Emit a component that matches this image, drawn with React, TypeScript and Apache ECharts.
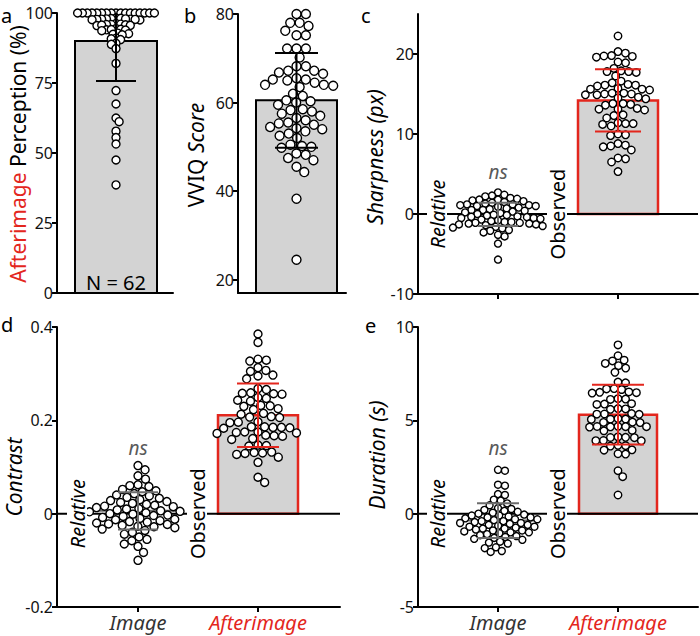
import React, { useEffect, useRef } from 'react';
import * as echarts from 'echarts';

// ---------------- data ----------------
const perceptionA = [
  100, 100, 100, 100, 100, 100, 100, 100, 100, 100, 100, 100, 100, 100, 100, 100, 100,
  98.2, 98.0, 97.9, 97.8, 97.7, 97.6, 97.8, 98.1, 97.5, 97.9, 97.7,
  96.2, 96.0, 95.9, 95.8, 95.6, 95.5, 95.9, 95.7,
  94.4, 94.2, 94.0, 93.9, 93.7, 94.1,
  92.8, 92.6, 92.4, 92.2,
  91.0, 90.8, 90.5,
  89.2, 88.8,
  87.3,
  82, 72.3, 67.5, 62.5, 61.2, 57.8, 55.5, 53.2, 47.5, 38.6,
];
const vviqB = [
  80, 80, 78, 78, 77.3, 76.2, 75.2, 75.2, 72.2, 72.2, 72.2, 70.2, 68.2, 68.2, 67.2, 67.2,
  66.8, 66.5, 65.5, 65.2, 65.2, 65, 64.5, 64, 64, 63.8, 63.5, 62, 61.5, 60.5, 60.3, 60,
  59.5, 58.5, 58.3, 58, 57.5, 57, 56.5, 56, 55.5, 55.3, 55, 54.5, 54.2, 54, 53.5, 53,
  52.5, 52, 50.5, 50.2, 50, 49.8, 48.5, 48.2, 47.5, 47, 45.5, 44.3, 38.3, 24.5,
];
const sharpRelative = [
  2.7, 2.4, 2.3, 2.2, 2.0, 1.9, 1.8, 1.8, 1.7, 1.6, 1.5, 1.4, 1.3, 1.2, 1.2, 1.1, 1.1,
  1.0, 1.0, 0.9, 0.8, 0.7, 0.6, 0.5, 0.5, 0.4, 0.3, 0.2, 0.1, 0.0,
  -0.1, -0.15, -0.2, -0.3, -0.35, -0.4, -0.5, -0.5, -0.6, -0.7, -0.8, -0.9, -1.0, -1.0,
  -1.1, -1.1, -1.2, -1.2, -1.3, -1.3, -1.4, -1.5, -1.6, -1.7, -1.8, -2.0, -2.1, -2.3,
  -2.6, -2.8, -3.7, -5.7,
];
const sharpObserved = [
  22.25, 20.3, 20.1, 19.8, 19.7, 19.75, 19.6, 19.0, 18.9, 18.2, 17.9, 17.8, 17.7, 17.8,
  17.25, 16.6, 16.4, 16.2, 16.1, 16.0, 16.1, 15.7, 15.6, 15.5, 15.6, 15.1, 15.0, 14.9,
  15.0, 15.1, 14.9, 14.5, 14.6, 14.4, 13.8, 13.7, 13.8, 13.6, 13.2, 13.1, 13.0, 13.1,
  12.4, 12.3, 12.0, 11.4, 11.3, 11.2, 11.3, 11.0, 10.0, 9.9, 9.8, 8.8, 8.6, 8.5, 8.4,
  8.0, 7.0, 6.9, 6.5, 5.3,
];
const contrastRelative = [
  0.103, 0.094, 0.081, 0.074, 0.062, 0.060, 0.058, 0.052, 0.049, 0.047, 0.043, 0.040,
  0.038, 0.035, 0.033, 0.030, 0.028, 0.026, 0.024, 0.022, 0.020, 0.018, 0.016, 0.015,
  0.013, 0.011, 0.010, 0.008, 0.006, 0.005, 0.004, 0.002, 0.000, -0.001, -0.003, -0.004,
  -0.006, -0.008, -0.010, -0.012, -0.013, -0.015, -0.017, -0.018, -0.020, -0.022, -0.023,
  -0.025, -0.027, -0.028, -0.030, -0.033, -0.036, -0.040, -0.044, -0.050, -0.055, -0.058,
  -0.065, -0.070, -0.083, -0.100,
];
const contrastObserved = [
  0.385, 0.367, 0.331, 0.329, 0.327, 0.313, 0.307, 0.305, 0.297, 0.295, 0.289, 0.268,
  0.266, 0.259, 0.258, 0.257, 0.256, 0.249, 0.247, 0.243, 0.241, 0.232, 0.231, 0.230,
  0.225, 0.223, 0.215, 0.213, 0.208, 0.207, 0.206, 0.197, 0.196, 0.195, 0.186, 0.185,
  0.185, 0.184, 0.186, 0.183, 0.175, 0.174, 0.173, 0.175, 0.172, 0.168, 0.167, 0.166,
  0.161, 0.159, 0.147, 0.146, 0.145, 0.132, 0.131, 0.130, 0.129, 0.127, 0.121, 0.110,
  0.078, 0.067,
];
const durationRelative = [
  2.35, 2.3, 1.55, 1.5, 1.05, 1.0, 0.75, 0.7, 0.55, 0.45, 0.3, 0.25, 0.2, 0.15, 0.1, 0.05,
  0.0, -0.05, -0.1, -0.1, -0.15, -0.2, -0.2, -0.25, -0.3, -0.3, -0.35, -0.4, -0.4, -0.45,
  -0.5, -0.5, -0.55, -0.6, -0.6, -0.65, -0.7, -0.7, -0.75, -0.8, -0.8, -0.85, -0.9, -0.9,
  -0.95, -1.0, -1.0, -1.05, -1.1, -1.15, -1.2, -1.25, -1.3, -1.35, -1.4, -1.5, -1.55,
  -1.6, -1.8, -1.85, -2.0, -2.05,
];
const durationObserved = [
  9.04, 8.46, 8.22, 8.18, 8.05, 7.93, 7.8, 7.57, 7.05, 7.01, 6.7, 6.68, 6.65, 6.52, 6.5,
  6.48, 6.46, 6.16, 6.14, 6.12, 5.89, 5.87, 5.85, 5.63, 5.61, 5.59, 5.36, 5.34, 5.33,
  5.32, 5.09, 5.07, 5.06, 5.05, 4.9, 4.89, 4.88, 4.68, 4.67, 4.66, 4.65, 4.64, 4.66, 4.46,
  4.44, 4.11, 4.09, 4.08, 4.07, 3.92, 3.91, 3.9, 3.66, 3.64, 3.62, 3.42, 3.4, 3.21, 3.19,
  2.3, 1.98, 1.0,
];

// means and SDs (error bars)
const meansA = [90.0];
const sdsA = [14.3];
const meansB = [60.5];
const sdsB = [10.7];
const meansC = [-0.05, 14.2];
const sdsC = [1.45, 3.9];
const meansD = [0.006, 0.211];
const sdsD = [0.04, 0.068];
const meansE = [-0.37, 5.3];
const sdsE = [0.93, 1.6];

// tick labels
const yTicksA = [0, 25, 50, 75, 100];
const yTicksB = [20, 40, 60, 80];
const yTicksC = [-10, 0, 10, 20];
const yTicksD = [-0.2, 0, 0.2, 0.4];
const yTicksE = [-5, 0, 5, 10];

const categories = ['Image', 'Afterimage'];
const groupNames = ['Relative', 'Observed'];
const sampleLabel = 'N = 62';
const nsLabel = 'ns';

// ---------------- styling ----------------
const RED = '#e3261d';
const BAR_FILL = '#d3d3d3';
const GRAY = '#6c6c6c';
const FONT = '"Noto Sans", "Open Sans", sans-serif';

function swarm(vals: number[], ppu: number, d: number): number[] {
  const idx = vals.map((_, i) => i).sort((a, b) => vals[b] - vals[a]);
  const placed: { x: number; y: number }[] = [];
  const out = new Array(vals.length).fill(0);
  for (const i of idx) {
    const y = vals[i] * ppu;
    const cands = [0];
    for (const p of placed) {
      const dy = Math.abs(p.y - y);
      if (dy < d) {
        const dx = Math.sqrt(d * d - dy * dy);
        cands.push(p.x + dx, p.x - dx);
      }
    }
    cands.sort((a, b) => Math.abs(a) - Math.abs(b) || b - a);
    let chosen = 0;
    for (const c of cands) {
      if (placed.every((p) => (p.x - c) ** 2 + (p.y - y) ** 2 >= d * d - 1e-6)) {
        chosen = c;
        break;
      }
    }
    placed.push({ x: chosen, y });
    out[i] = chosen;
  }
  return out;
}

type Group = {
  vals: number[]; mean: number; sd: number; kind: number; center: number;
  barHalf: number; whiskerHalf: number; d: number; size: number;
};
type Panel = {
  grid: { left: number; top: number; width: number; height: number };
  xr: [number, number]; yr: [number, number]; ticks: number[]; groups: Group[];
  xTicks: boolean; xLabels: boolean; zero: boolean; ns: number | null; base: number;
};

function buildPanels(): Panel[] {
  return [
    {
      grid: { left: 57, top: 13, width: 116, height: 280 }, xr: [-59, 57], yr: [0, 100], ticks: yTicksA,
      groups: [{ vals: perceptionA, mean: meansA[0], sd: sdsA[0], kind: 0, center: 0, barHalf: 41, whiskerHalf: 20, d: 4.8, size: 8 }],
      xTicks: false, xLabels: false, zero: false, ns: null, base: 0,
    },
    {
      grid: { left: 238, top: 14, width: 108, height: 279 }, xr: [-58.5, 49.5], yr: [17, 80], ticks: yTicksB,
      groups: [{ vals: vviqB, mean: meansB[0], sd: sdsB[0], kind: 0, center: 0, barHalf: 40.5, whiskerHalf: 21.5, d: 9.4, size: 9 }],
      xTicks: false, xLabels: false, zero: false, ns: null, base: 17,
    },
    {
      grid: { left: 418, top: 14, width: 280, height: 280 }, xr: [-80, 200], yr: [-10, 25], ticks: yTicksC,
      groups: [
        { vals: sharpRelative, mean: meansC[0], sd: sdsC[0], kind: 2, center: 0, barHalf: 40, whiskerHalf: 20, d: 6.8, size: 7 },
        { vals: sharpObserved, mean: meansC[1], sd: sdsC[1], kind: 1, center: 120, barHalf: 40, whiskerHalf: 23, d: 7.6, size: 7.5 },
      ],
      xTicks: true, xLabels: false, zero: true, ns: 5.2, base: 0,
    },
    {
      grid: { left: 57, top: 327, width: 283, height: 280 }, xr: [-81, 202], yr: [-0.2, 0.4], ticks: yTicksD,
      groups: [
        { vals: contrastRelative, mean: meansD[0], sd: sdsD[0], kind: 2, center: 0, barHalf: 40, whiskerHalf: 20, d: 8.2, size: 8 },
        { vals: contrastObserved, mean: meansD[1], sd: sdsD[1], kind: 1, center: 120, barHalf: 40, whiskerHalf: 21, d: 8.4, size: 8 },
      ],
      xTicks: true, xLabels: true, zero: true, ns: 0.141, base: 0,
    },
    {
      grid: { left: 418, top: 327, width: 280, height: 280 }, xr: [-80, 200], yr: [-5, 10], ticks: yTicksE,
      groups: [
        { vals: durationRelative, mean: meansE[0], sd: sdsE[0], kind: 2, center: 0, barHalf: 41, whiskerHalf: 21, d: 7.0, size: 7 },
        { vals: durationObserved, mean: meansE[1], sd: sdsE[1], kind: 1, center: 120, barHalf: 39, whiskerHalf: 26, d: 7.6, size: 7.5 },
      ],
      xTicks: true, xLabels: true, zero: true, ns: 3.5, base: 0,
    },
  ];
}

function buildOption(panels: Panel[]) {
  const grid: any[] = [];
  const xAxis: any[] = [];
  const yAxis: any[] = [];
  const series: any[] = [];
  const axisLineStyle = { color: '#000', width: 2 };

  panels.forEach((p, gi) => {
    grid.push({ ...p.grid, containLabel: false });
    const tickValues = p.groups.map((g) => g.center);
    xAxis.push({
      gridIndex: gi, type: 'value', min: p.xr[0], max: p.xr[1],
      axisLine: { show: true, onZero: false, lineStyle: axisLineStyle },
      splitLine: { show: false },
      axisTick: p.xTicks
        ? { show: true, customValues: tickValues, length: 5, lineStyle: axisLineStyle }
        : { show: false },
      axisLabel: p.xLabels
        ? {
            show: true, customValues: tickValues, margin: 5,
            formatter: (v: number) => (v === 0 ? `{i|${categories[0]}}` : `{r|${categories[1]}}`),
            rich: {
              i: { fontSize: 20, fontStyle: 'italic', color: '#333', fontFamily: FONT },
              r: { fontSize: 20, fontStyle: 'italic', color: RED, fontFamily: FONT },
            },
          }
        : { show: false },
    });
    yAxis.push({
      gridIndex: gi, type: 'value', min: p.yr[0], max: p.yr[1],
      axisLine: { show: true, onZero: false, lineStyle: axisLineStyle },
      splitLine: { show: false },
      axisTick: { show: true, customValues: p.ticks, length: 5, lineStyle: axisLineStyle },
      axisLabel: {
        show: true, customValues: p.ticks, margin: 4, fontSize: 16, color: '#111', fontFamily: FONT,
        formatter: (v: number) => String(v),
      },
    });

    const ppu = p.grid.height / (p.yr[1] - p.yr[0]);

    // bars / relative mean lines
    series.push({
      type: 'custom', xAxisIndex: gi, yAxisIndex: gi, z: 1, silent: true,
      data: p.groups.map((g) => [g.center, g.mean, g.sd]),
      renderItem: (params: any, api: any) => {
        const g = p.groups[params.dataIndex];
        const cx = api.value(0);
        const m = api.value(1);
        const tl = api.coord([cx - g.barHalf, m]);
        const br = api.coord([cx + g.barHalf, p.base]);
        if (g.kind === 2) {
          return {
            type: 'line', shape: { x1: tl[0], y1: tl[1], x2: br[0], y2: tl[1] },
            style: { stroke: GRAY, lineWidth: 2 },
          };
        }
        return {
          type: 'rect',
          shape: { x: tl[0], y: tl[1], width: br[0] - tl[0], height: br[1] - tl[1] },
          style: { fill: BAR_FILL, stroke: g.kind === 1 ? RED : '#000', lineWidth: g.kind === 1 ? 2.5 : 2 },
        };
      },
    });

    // zero reference line
    if (p.zero) {
      series.push({
        type: 'custom', xAxisIndex: gi, yAxisIndex: gi, z: 1, silent: true,
        data: [[0, 0]],
        renderItem: (params: any, api: any) => {
          const cs = params.coordSys;
          const y = api.coord([0, 0])[1];
          return {
            type: 'line', shape: { x1: cs.x, y1: y, x2: cs.x + cs.width, y2: y },
            style: { stroke: '#000', lineWidth: 2 },
          };
        },
      });
    }

    // points
    p.groups.forEach((g) => {
      const offs = swarm(g.vals, ppu, g.d);
      series.push({
        type: 'scatter', xAxisIndex: gi, yAxisIndex: gi, z: 2, silent: true,
        symbol: 'circle', symbolSize: g.size,
        itemStyle: { color: '#fff', borderColor: '#000', borderWidth: 1.4, opacity: 1 },
        data: g.vals.map((v, i) => [g.center + offs[i], v]),
      });
    });

    // error bars
    series.push({
      type: 'custom', xAxisIndex: gi, yAxisIndex: gi, z: 3, silent: true,
      data: p.groups.map((g) => [g.center, g.mean, g.sd]),
      renderItem: (params: any, api: any) => {
        const g = p.groups[params.dataIndex];
        const cx = api.value(0);
        const m = api.value(1);
        const sd = api.value(2);
        const hi = Math.min(m + sd, p.yr[1]);
        const lo = Math.max(m - sd, p.yr[0]);
        const color = g.kind === 1 ? RED : g.kind === 2 ? GRAY : '#000';
        const style = { stroke: color, lineWidth: 2 };
        const pHi = api.coord([cx, hi]);
        const pLo = api.coord([cx, lo]);
        const wl = api.coord([cx - g.whiskerHalf, 0])[0];
        const wr = api.coord([cx + g.whiskerHalf, 0])[0];
        const children: any[] = [
          { type: 'line', shape: { x1: pHi[0], y1: pHi[1], x2: pLo[0], y2: pLo[1] }, style },
          { type: 'line', shape: { x1: wl, y1: pLo[1], x2: wr, y2: pLo[1] }, style },
        ];
        if (m + sd <= p.yr[1]) {
          children.push({ type: 'line', shape: { x1: wl, y1: pHi[1], x2: wr, y2: pHi[1] }, style });
        }
        return { type: 'group', children };
      },
    });
  });

  return { animation: false, backgroundColor: '#fff', grid, xAxis, yAxis, series };
}

const R = Math.PI / 2;
function txt(text: string, x: number, y: number, opts: any = {}) {
  return {
    type: 'text', x, y, rotation: opts.rotation || 0, z: 20, silent: true,
    style: {
      text, fill: opts.fill || '#000', fontSize: opts.fontSize || 21, fontFamily: FONT,
      fontStyle: opts.fontStyle || 'normal', align: opts.align || 'center', textAlign: opts.align || 'center',
      verticalAlign: 'middle', textVerticalAlign: 'middle', rich: opts.rich,
      backgroundColor: opts.bg, padding: opts.padding,
    },
  };
}

function buildGraphic(chart: any, panels: Panel[]) {
  const g: any[] = [
    txt('a', 1, 15, { align: 'left', fontSize: 20 }),
    txt('b', 184, 15, { align: 'left', fontSize: 20 }),
    txt('c', 361, 15, { align: 'left', fontSize: 20 }),
    txt('d', 1, 324, { align: 'left', fontSize: 20 }),
    txt('e', 365, 325, { align: 'left', fontSize: 20 }),
    txt('{r|Afterimage} Perception (%)', 18, 154, {
      rotation: R,
      rich: { r: { fill: RED, fontSize: 21, fontFamily: FONT } },
    }),
    txt('VVIQ {i|Score}', 196, 155, {
      rotation: R,
      rich: { i: { fontSize: 21, fontFamily: FONT, fontStyle: 'italic' } },
    }),
    txt('Sharpness (px)', 375, 157, { rotation: R, fontStyle: 'italic' }),
    txt('Contrast', 14, 477, { rotation: R, fontStyle: 'italic' }),
    txt('Duration (s)', 377, 455, { rotation: R, fontStyle: 'italic' }),
    txt(sampleLabel, 116, 282, { fontSize: 20 }),
  ];
  panels.forEach((p, gi) => {
    if (p.ns === null) return;
    const nsPt = chart.convertToPixel({ gridIndex: gi }, [p.groups[0].center, p.ns]);
    g.push(txt(nsLabel, nsPt[0], nsPt[1], { fontSize: 19, fontStyle: 'italic', fill: '#5a5a5a' }));
    const relPt = chart.convertToPixel({ gridIndex: gi }, [p.groups[0].center - 61, 0]);
    g.push(txt(groupNames[0], relPt[0], relPt[1], { rotation: R, fontSize: 20, fontStyle: 'italic', bg: '#fff', padding: [0, 2] }));
    const obsPt = chart.convertToPixel({ gridIndex: gi }, [p.groups[0].center + 59, 0]);
    g.push(txt(groupNames[1], obsPt[0], obsPt[1], { rotation: R, fontSize: 20, bg: '#fff', padding: [0, 2] }));
  });
  return g;
}

export default function App() {
  const ref = useRef<HTMLDivElement>(null);
  useEffect(() => {
    document.body.style.margin = '0';
    const chart = echarts.init(ref.current as HTMLDivElement, null, { renderer: 'svg' });
    const panels = buildPanels();
    chart.setOption(buildOption(panels) as any);
    chart.setOption({ graphic: buildGraphic(chart, panels) } as any);
    return () => chart.dispose();
  }, []);
  return <div ref={ref} style={{ width: 700, height: 636 }} />;
}
